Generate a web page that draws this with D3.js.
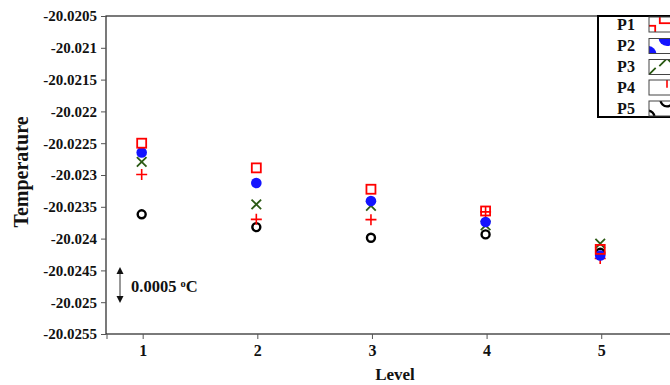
<!DOCTYPE html>
<html>
<head>
<meta charset="utf-8" />
<script src="https://d3js.org/d3.v7.min.js"></script>
<style>
  body { margin: 0; background: #fff; }
  text { font-family: "Liberation Serif", "Times New Roman", serif; font-weight: bold; }
</style>
</head>
<body>
<svg id="chart" width="670" height="385"></svg>
<script>
  // data
  var levels = [1, 2, 3, 4, 5];
  var seriesNames = ["P1", "P2", "P3", "P4", "P5"];
  var p1 = [-20.0225, -20.022888, -20.023224, -20.023566, -20.024170];
  var p2 = [-20.022645, -20.023125, -20.023409, -20.02374, -20.024265];
  var p3 = [-20.022793, -20.023461, -20.023484, -20.023792, -20.02408];
  var p4 = [-20.022992, -20.023697, -20.023702, -20.023580, -20.024312];
  var p5 = [-20.023618, -20.023819, -20.023986, -20.023934, -20.024222];
  var yTicks = [-20.0205, -20.021, -20.0215, -20.022, -20.0225, -20.023,
                -20.0235, -20.024, -20.0245, -20.025, -20.0255];

  var series = [p1, p2, p3, p4, p5];
  var colors = ["#ff0000", "#1414ff", "#2b5a14", "#ff0000", "#000000"];

  var svg = d3.select("#chart");
  var mLeft = 106, mTop = 16, mBottom = 334, mRight = 690;

  var x = d3.scaleLinear().domain([0.68, 5.6]).range([mLeft, 670]);
  var y = d3.scaleLinear().domain([-20.0255, -20.0205]).range([mBottom, mTop]);

  // frame
  svg.append("rect")
    .attr("x", mLeft).attr("y", mTop)
    .attr("width", mRight - mLeft).attr("height", mBottom - mTop)
    .attr("fill", "none").attr("stroke", "#222").attr("stroke-width", 1.2);

  var yAxis = svg.append("g")
    .attr("transform", "translate(" + mLeft + ",0)")
    .call(d3.axisLeft(y).tickValues(yTicks).tickSize(5).tickSizeOuter(0)
      .tickFormat(function (d) { return d3.format(".4~f")(d).replace("\u2212", "-"); }));
  yAxis.select(".domain").remove();
  yAxis.selectAll("line").attr("stroke", "#555");
  yAxis.selectAll("text").attr("font-size", 15).attr("fill", "#111").attr("x", -9);

  var xAxis = svg.append("g")
    .attr("transform", "translate(0," + mBottom + ")")
    .call(d3.axisBottom(x).tickValues(levels).tickSize(5).tickSizeOuter(0)
      .tickFormat(d3.format("d")));
  xAxis.select(".domain").remove();
  xAxis.selectAll("line").attr("stroke", "#555");
  xAxis.selectAll("text").attr("font-size", 16).attr("fill", "#111")
    .attr("y", 11).attr("dy", "0.71em");
  xAxis.append("line").attr("x1", mLeft + 1).attr("x2", mLeft + 1)
    .attr("y1", 0).attr("y2", 5).attr("stroke", "#555");

  svg.append("text")
    .attr("transform", "translate(28,172) rotate(-90)")
    .attr("text-anchor", "middle").attr("font-size", 20).attr("fill", "#111")
    .text("Temperature");
  svg.append("text")
    .attr("x", 395).attr("y", 380)
    .attr("text-anchor", "middle").attr("font-size", 17).attr("fill", "#111")
    .text("Level");

  // markers
  function marker(g, i, cx, cy, s) {
    var c = colors[i];
    if (i === 0) {
      g.append("rect").attr("x", cx - 4.5 * s).attr("y", cy - 4.5 * s)
        .attr("width", 9 * s).attr("height", 9 * s)
        .attr("fill", "none").attr("stroke", c).attr("stroke-width", 1.8);
    } else if (i === 1) {
      g.append("circle").attr("cx", cx).attr("cy", cy).attr("r", 5.3 * s).attr("fill", c);
    } else if (i === 2) {
      var h = 4.8 * s;
      g.append("path")
        .attr("d", "M" + (cx - h) + "," + (cy - h) + "L" + (cx + h) + "," + (cy + h) +
                   "M" + (cx - h) + "," + (cy + h) + "L" + (cx + h) + "," + (cy - h))
        .attr("stroke", c).attr("stroke-width", 1.8).attr("fill", "none");
    } else if (i === 3) {
      var k = 5.5 * s;
      g.append("path")
        .attr("d", "M" + (cx - k) + "," + cy + "L" + (cx + k) + "," + cy +
                   "M" + cx + "," + (cy - k) + "L" + cx + "," + (cy + k))
        .attr("stroke", c).attr("stroke-width", 1.6).attr("fill", "none");
    } else {
      g.append("circle").attr("cx", cx).attr("cy", cy).attr("r", 4 * s)
        .attr("fill", "none").attr("stroke", c).attr("stroke-width", 2.4);
    }
  }

  var pts = svg.append("g");
  [4, 3, 2, 1, 0].forEach(function (i) {
    series[i].forEach(function (v, j) {
      marker(pts, i, x(levels[j]) - 1, y(v), 1);
    });
  });

  // scale annotation arrow
  var ax = 120, ay1 = 267, ay2 = 303;
  svg.append("line").attr("x1", ax).attr("x2", ax).attr("y1", ay1 + 4).attr("y2", ay2 - 4)
    .attr("stroke", "#333").attr("stroke-width", 1);
  svg.append("path").attr("d", "M" + ax + "," + ay1 + "l-3.5,7h7z").attr("fill", "#111");
  svg.append("path").attr("d", "M" + ax + "," + ay2 + "l-3.5,-7h7z").attr("fill", "#111");
  var ann = svg.append("text").attr("x", 131).attr("y", 292).attr("font-size", 16.5).attr("fill", "#111");
  ann.append("tspan").text("0.0005 ");
  ann.append("tspan").attr("font-size", 10.5).attr("dy", -5).text("o");
  ann.append("tspan").attr("dy", 5).text("C");

  // legend
  var lg = svg.append("g");
  lg.append("rect").attr("x", 598).attr("y", 16).attr("width", 90).attr("height", 101)
    .attr("fill", "#fff").attr("stroke", "#000").attr("stroke-width", 2);
  var rowY = [24, 45.5, 66.5, 87, 108];
  var defs = svg.append("defs");
  seriesNames.forEach(function (n, i) {
    lg.append("text").attr("x", 626).attr("y", rowY[i] + 5.5)
      .attr("text-anchor", "middle").attr("font-size", 16).attr("fill", "#111").text(n);
    var bx = 649, by = rowY[i] - 7, bw = 30, bh = 15;
    defs.append("clipPath").attr("id", "lc" + i)
      .append("rect").attr("x", bx).attr("y", by).attr("width", bw).attr("height", bh);
    var sg = lg.append("g").attr("clip-path", "url(#lc" + i + ")");
    marker(sg, i, bx - 1, by + bh + 1, 1.6);
    marker(sg, i, bx + 18, by - 1, 1.6);
    lg.append("rect").attr("x", bx).attr("y", by).attr("width", bw).attr("height", bh)
      .attr("fill", "none").attr("stroke", "#444").attr("stroke-width", 1);
  });
</script>
</body>
</html>
